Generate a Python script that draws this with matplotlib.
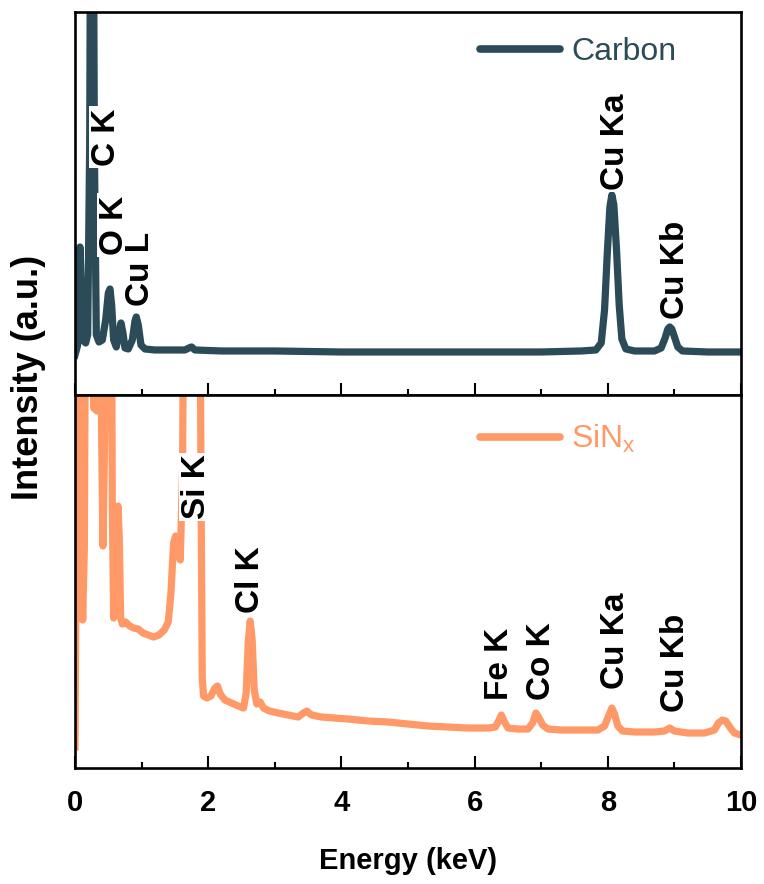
import matplotlib
matplotlib.use('Agg')
import matplotlib.pyplot as plt
from matplotlib import font_manager
from matplotlib.ticker import MultipleLocator

# EDS spectra (intensity in arbitrary units)
carbon_energy = [0.00, 0.04, 0.075, 0.12, 0.16, 0.19, 0.22, 0.255, 0.29, 0.32,
                 0.36, 0.41, 0.46, 0.50, 0.525, 0.55, 0.58, 0.62, 0.66, 0.69,
                 0.72, 0.75, 0.80, 0.86, 0.90, 0.92, 0.95, 0.99, 1.05, 1.20,
                 1.40, 1.65, 1.71, 1.75, 1.80, 2.2, 3.0, 4.0, 5.0, 6.0,
                 7.0, 7.6, 7.82, 7.90, 7.95, 7.99, 8.03, 8.06, 8.09, 8.13,
                 8.17, 8.21, 8.27, 8.40, 8.70, 8.80, 8.86, 8.90, 8.93, 8.96,
                 9.00, 9.05, 9.12, 9.5, 10.0]
carbon_counts = [40, 50, 148, 55, 52, 60, 250, 900, 250, 60,
                 53, 55, 75, 102, 106, 90, 55, 48, 62, 72,
                 62, 47, 46, 55, 74, 78, 70, 50, 46, 45,
                 45, 45, 47, 48, 45, 44, 44, 43, 43, 43,
                 43, 44, 45, 52, 85, 140, 188, 200, 190, 145,
                 90, 56, 46, 44, 44, 47, 57, 66, 68, 66,
                 58, 48, 44, 43, 43]

sinx_energy = [0.00, 0.015, 0.03, 0.06, 0.09, 0.115, 0.14, 0.165, 0.26, 0.28,
               0.33, 0.35, 0.37, 0.40, 0.42, 0.445, 0.47, 0.54, 0.56, 0.58,
               0.60, 0.625, 0.645, 0.665, 0.685, 0.71, 0.76, 0.82, 0.88, 0.95,
               1.02, 1.10, 1.18, 1.26, 1.34, 1.40, 1.44, 1.48, 1.51, 1.545,
               1.58, 1.615, 1.64, 1.87, 1.89, 1.91, 1.93, 1.98, 2.04, 2.10,
               2.14, 2.18, 2.25, 2.35, 2.45, 2.53, 2.57, 2.60, 2.63, 2.66,
               2.69, 2.73, 2.78, 2.83, 2.92, 3.05, 3.2, 3.35, 3.43, 3.48,
               3.55, 3.7, 3.9, 4.1, 4.4, 4.7, 5.0, 5.3, 5.6, 5.9,
               6.2, 6.31, 6.36, 6.40, 6.44, 6.50, 6.65, 6.8, 6.87, 6.92,
               6.96, 7.02, 7.1, 7.3, 7.6, 7.85, 7.95, 8.01, 8.06, 8.10,
               8.15, 8.22, 8.4, 8.7, 8.85, 8.93, 9.0, 9.2, 9.45, 9.6,
               9.66, 9.72, 9.77, 9.84, 9.9, 10.0]
sinx_counts = [21, 200, 600, 600, 250, 148, 220, 600, 600, 360,
               357, 400, 600, 330, 222, 330, 600, 600, 260, 150,
               155, 230, 262, 230, 150, 144, 146, 142, 140, 139,
               135, 133, 131, 133, 138, 146, 175, 225, 232, 215,
               208, 300, 600, 600, 300, 90, 72, 70, 72, 80,
               82, 74, 68, 65, 62, 60, 75, 125, 147, 128,
               78, 64, 66, 60, 57, 55, 53, 51, 55, 57,
               53, 51, 50, 49, 47, 46, 44, 42, 41, 40,
               40, 41, 47, 53, 47, 40, 39, 39, 45, 55,
               51, 43, 39, 38, 38, 38, 42, 52, 60, 54,
               42, 37, 36, 36, 37, 40, 37, 35, 35, 38,
               45, 48, 47, 40, 35, 33]

carbon_peaks = ['C K', 'O K', 'Cu L', 'Cu Ka', 'Cu Kb']
sinx_peaks = ['Si K', 'Cl K', 'Fe K', 'Co K', 'Cu Ka', 'Cu Kb']

carbon_color = '#2b4b58'
sinx_color = '#ff9a68'

names = {f.name for f in font_manager.fontManager.ttflist}
narrow = 'Liberation Sans Narrow' if 'Liberation Sans Narrow' in names else 'Liberation Sans'
plt.rcParams['font.family'] = ['Liberation Sans', 'DejaVu Sans']
plt.rcParams['mathtext.fontset'] = 'custom'
plt.rcParams['mathtext.rm'] = 'Liberation Sans'

fig = plt.figure(figsize=(7.64, 8.84), dpi=100)
ax_top = fig.add_axes([0.0982, 0.5532, 0.8718, 0.4332])
ax_bot = fig.add_axes([0.0982, 0.1312, 0.8718, 0.4220])


def style_axis(ax):
    for sp in ax.spines.values():
        sp.set_linewidth(1.9)
    ax.set_xlim(0, 10)
    ax.set_yticks([])
    ax.xaxis.set_major_locator(MultipleLocator(2))
    ax.xaxis.set_minor_locator(MultipleLocator(1))
    ax.tick_params(axis='x', which='major', direction='in', length=8.5, width=1.5)
    ax.tick_params(axis='x', which='minor', direction='in', length=4.5, width=1.5)


ax_top.plot(carbon_energy, carbon_counts, color=carbon_color, lw=5.2, label='Carbon',
            solid_joinstyle='round', zorder=2)
ax_top.set_ylim(0, 383)
style_axis(ax_top)
ax_top.tick_params(axis='x', labelbottom=False)

ax_bot.plot(sinx_energy, sinx_counts, color=sinx_color, lw=5.2, label=r'SiN$_\mathregular{x}$',
            solid_joinstyle='round', zorder=2)
ax_bot.set_ylim(0, 373)
style_axis(ax_bot)
for lab in ax_bot.get_xticklabels():
    lab.set_fontfamily(narrow)
    lab.set_fontweight('bold')
    lab.set_fontsize(21)
ax_bot.tick_params(axis='x', pad=15)

label_kw = dict(rotation=90, ha='center', va='center', fontsize=24, fontweight='bold',
                bbox=dict(facecolor='white', edgecolor='none', pad=1.5), zorder=5)
top_pos = [(0.48, 258), (0.60, 170), (0.98, 126), (8.11, 253), (9.01, 125)]
for name, (x, y) in zip(carbon_peaks, top_pos):
    ax_top.text(x, y, name, **label_kw)
bot_pos = [(1.82, 281), (2.63, 188), (6.37, 104), (7.01, 107), (8.12, 127), (9.01, 105)]
for name, (x, y) in zip(sinx_peaks, bot_pos):
    ax_bot.text(x, y, name, **label_kw)

for ax, yanc, col in [(ax_top, 0.896, carbon_color), (ax_bot, 0.882, sinx_color)]:
    leg = ax.legend(loc='center left', bbox_to_anchor=(0.608, yanc), frameon=False,
                    fontsize=23, handlelength=2.5, handletextpad=0.35,
                    borderpad=0, borderaxespad=0)
    for t in leg.get_texts():
        t.set_color(col)
    for h in leg.get_lines():
        h.set_linewidth(5.5)
        h.set_solid_capstyle('round')

ax_bot.set_xlabel('Energy (keV)', fontfamily=narrow, fontweight='bold', fontsize=21, labelpad=22)
fig.text(0.037, 0.573, 'Intensity (a.u.)', rotation=90, ha='center', va='center',
         fontsize=26, fontweight='bold')

fig.savefig('out.png', dpi=100)
